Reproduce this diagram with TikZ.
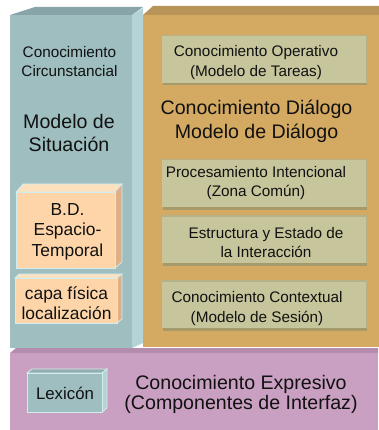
\documentclass[tikz,border=0pt]{standalone}
\usepackage{fontspec}
\setmainfont{Liberation Sans}
\definecolor{blueFront}{HTML}{9FBEC0}
\definecolor{blueTop}{HTML}{89A4A8}
\definecolor{blueSide}{HTML}{B3D3D6}
\definecolor{orangeFront}{HTML}{D4A962}
\definecolor{orangeTop}{HTML}{B99458}
\definecolor{olive}{HTML}{C7C59B}
\definecolor{oliveShadow}{HTML}{A79A6A}
\definecolor{oliveTop}{HTML}{B5B28A}
\definecolor{peach}{HTML}{FDD5A9}
\definecolor{peachSide}{HTML}{DDB08A}
\definecolor{peachTop}{HTML}{FDE0BE}
\definecolor{pink}{HTML}{C9A0C1}
\definecolor{pinkTop}{HTML}{B48CAE}
\definecolor{edgeLight}{HTML}{D2ECEE}
\definecolor{txt}{HTML}{111111}
\tikzset{
  face/.style={rectangle, anchor=north west, inner sep=0pt, outer sep=0pt},
  lbl/.style={inner sep=0pt, align=center, text=txt},
  smalltxt/.style={lbl, font=\fontsize{15.3}{19.5}\selectfont},
  bigtxt/.style={lbl, font=\fontsize{19.6}{23.5}\selectfont},
  peachtxt/.style={lbl, font=\fontsize{17.4}{20.5}\selectfont},
  oliveBox/.style={face, fill=olive, minimum width=205pt, minimum height=48pt},
}
\begin{document}
\begin{tikzpicture}[x=1pt,y=-1pt]
\useasboundingbox (0,0) rectangle (379,430);
\fill[white] (0,0) rectangle (379,430);

% pink base block
\fill[pinkTop] (10,353) -- (16,348) -- (378,348) -- (378,353) -- cycle;
\node[face, fill=pink, minimum width=368pt, minimum height=77pt] (pinkF) at (10,353) {};

% blue block
\fill[blueTop] (10,15) -- (35,7) -- (143,7) -- (132,15) -- cycle;
\fill[blueSide] (132,15) -- (143,8) -- (143,343) -- (132,348) -- cycle;
\node[face, fill=blueFront, minimum width=122pt, minimum height=333pt] (blueF) at (10,15) {};

% orange block
\fill[orangeTop] (143,15) -- (153,6) -- (379,6) -- (379,15) -- cycle;
\node[face, fill=orangeFront, minimum width=236pt, minimum height=332pt] (orangeF) at (143,15) {};

% olive boxes
\foreach \n/\y in {ob1/35, ob2/159, ob3/215, ob4/280} {
  \node[oliveBox] (\n) at (162,\y) {};
  \fill[oliveShadow] (\n.south west) ++(1,0) rectangle ++(204,2.5);
  \fill[oliveTop] (\n.north west) rectangle ++(205,1.5);
  \fill[oliveTop] (\n.north east) ++(-1.5,0) rectangle ++(1.5,48);
}

% peach box B.D.
\fill[peachTop, draw=edgeLight, line width=0.8pt] (16,192) -- (23,184) -- (122,184) -- (115,192) -- cycle;
\fill[peachSide, draw=edgeLight, line width=0.8pt] (115,192) -- (122,184) -- (122,262) -- (115,268) -- cycle;
\node[face, fill=peach, draw=edgeLight, line width=0.8pt, minimum width=99pt, minimum height=76pt] (bd) at (16,192) {};

% peach box capa fisica
\fill[peachTop, draw=edgeLight, line width=0.8pt] (15,278) -- (19,274) -- (122,274) -- (117,278) -- cycle;
\fill[peachSide, draw=edgeLight, line width=0.8pt] (117,278) -- (122,274) -- (122,319) -- (117,323) -- cycle;
\node[face, fill=peach, draw=edgeLight, line width=0.8pt, minimum width=102pt, minimum height=45pt] (capa) at (15,278) {};

% lexicon box
\fill[blueTop!60!blueFront, draw=edgeLight, line width=0.8pt] (27,373) -- (32,369) -- (107,369) -- (102,373) -- cycle;
\fill[blueSide, draw=edgeLight, line width=0.8pt] (102,373) -- (107,369) -- (107,408) -- (102,412) -- cycle;
\node[face, fill=blueFront, draw=edgeLight, line width=0.8pt, minimum width=75pt, minimum height=39pt] (lex) at (27,373) {};

% texts
\node[smalltxt] (tCirc) at (69.5,61.5) {Conocimiento\\Circunstancial};
\node[bigtxt] (tSit) at (69,133) {Modelo de\\Situación};
\node[peachtxt] (tBD) at (67.5,231.5) {B.D.\\Espacio-\\Temporal};
\node[peachtxt] (tCapa) at (66.5,303) {capa física\\localización};
\node[smalltxt] (tOp) at (256,62.5) {Conocimiento Operativo\\(Modelo de Tareas)};
\node[bigtxt] (tDia) at (256.5,121.5) {Conocimiento Diálogo\\Modelo de Diálogo};
\node[smalltxt] (tInt) at (256,183) {Procesamiento Intencional\\(Zona Común)};
\node[smalltxt] (tEst) at (266,242.5) {Estructura y Estado de\\la Interacción};
\node[smalltxt] (tCtx) at (257,308.5) {Conocimiento Contextual\\(Modelo de Sesión)};
\node[peachtxt, font=\fontsize{16.8}{20}\selectfont] (tLex) at (65,393) {Lexicón};
\node[bigtxt, font=\fontsize{19.6}{20}\selectfont] (tExp) at (241,394) {Conocimiento Expresivo\\(Componentes de Interfaz)};
\end{tikzpicture}
\end{document}
